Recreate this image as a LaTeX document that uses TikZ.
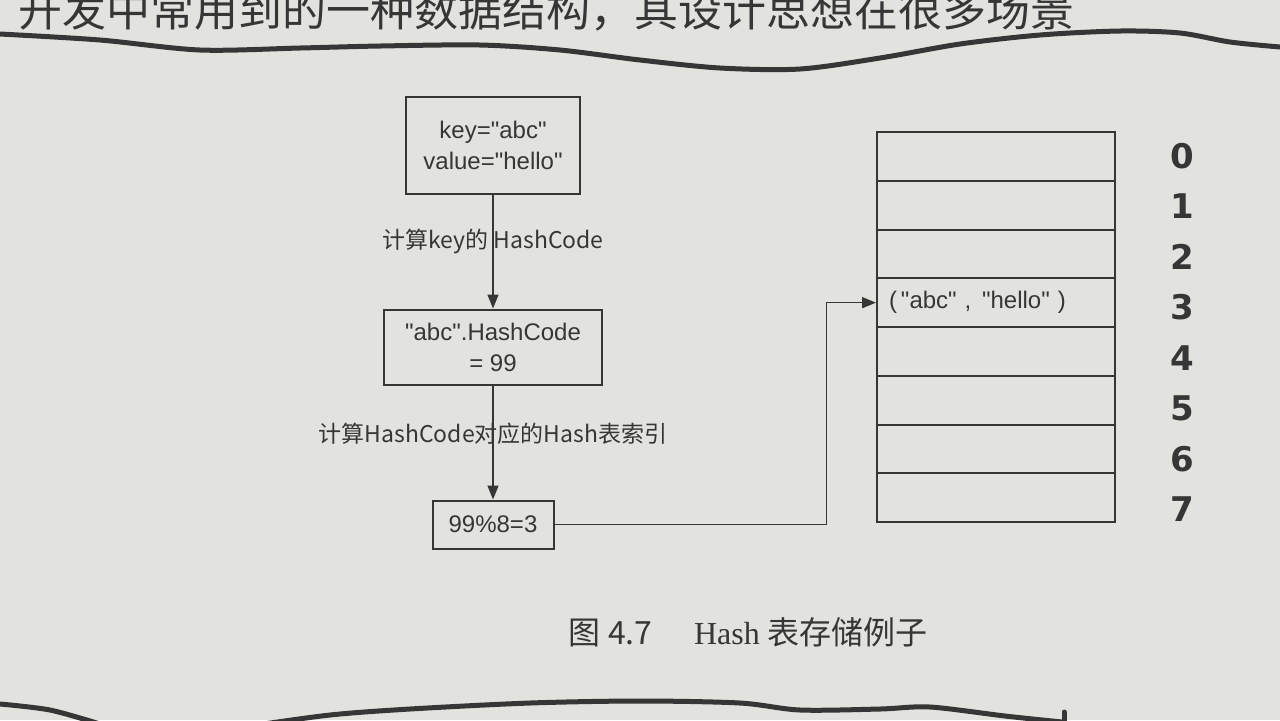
\documentclass[tikz,border=0pt]{standalone}
\usepackage{fontspec}
\setmainfont{Liberation Sans}
\newfontfamily\cjk{Noto Sans CJK SC}
\newfontfamily\capserif{Liberation Serif}
\newfontfamily\idxfont{DejaVu Sans}
\usetikzlibrary{arrows.meta,positioning}
\definecolor{paper}{HTML}{E2E2DF}
\definecolor{ink}{HTML}{363636}
\newcommand{\qt}{\textquotedbl}

\begin{document}
\begin{tikzpicture}[
    x=0.5pt, y=-0.5pt,
    node distance=57pt,
    box/.style={rectangle, draw=ink, line width=1pt, align=center, text=ink, font=\fontsize{12}{15.5}\selectfont},
    cell/.style={rectangle, draw=ink, line width=1pt, minimum width=119pt, minimum height=24.4pt, inner sep=0pt},
    steplabel/.style={font=\cjk\fontsize{11.5}{14}\selectfont, text=ink},
    idx/.style={font=\idxfont\bfseries\fontsize{17}{20}\selectfont, text=ink},
    arrow/.style={-{Triangle[length=7pt,width=5.5pt]}, draw=ink, line width=0.8pt},
    pageedge/.style={line width=2.5pt, draw=ink, line cap=round, line join=round}
]
\fill[paper] (0,0) rectangle (1280,720);
\useasboundingbox (0,0) rectangle (1280,720);

% Page text and torn edges
\begin{scope}
    \clip (0,0) rectangle (1280,720);
    \node[anchor=base west, inner sep=0pt, text=ink, font=\cjk\fontsize{22}{22}\selectfont] (bodytext) at (18,26) {开发中常用到的一种数据结构，其设计思想在很多场景};
    \draw[pageedge] plot[smooth] coordinates {(0,34) (100,40) (200,50) (300,48) (380,46) (480,45) (560,50) (640,60) (720,68) (800,69) (880,58) (960,44) (1040,35) (1120,31) (1180,33) (1230,42) (1280,47)};
    \draw[pageedge] plot[smooth] coordinates {(0,704) (50,710) (100,724)};
    \draw[pageedge] plot[smooth] coordinates {(250,726) (330,715) (410,709) (530,703) (640,701) (740,703) (800,710) (880,709) (930,707) (1005,716) (1062,722)};
    \draw[pageedge] (1064,712) -- (1064,724);
\end{scope}

% Hash steps
\node[box, minimum width=87pt, minimum height=48.5pt] (kv) at (493,145) {key=\qt abc\qt\\value=\qt hello\qt};
\node[box, minimum width=109pt, minimum height=37.5pt, below=of kv] (hash) {\qt abc\qt.HashCode\\= 99};
\node[box, minimum width=60.5pt, minimum height=24pt, below=of hash] (mod) {99\%8=3};

\draw[arrow] (kv) -- node[steplabel, pos=0.41] (calc1) {计算key的 HashCode} (hash);
\draw[arrow] (hash) -- node[steplabel, pos=0.42] (calc2) {计算HashCode对应的Hash表索引} (mod);

% Hash table
\foreach \i in {0,...,7}
    \node[cell] (c\i) at (996,{156.4+48.75*\i}) {};
\foreach \i in {0,...,7}
    \node[idx] (n\i) at (1182,{156+50.5*\i}) {\i};

\node[box, draw=none, anchor=west, inner sep=0pt] (entry) at ([xshift=6pt]c3.west) {(\,\qt abc\qt\,\,, \,\qt hello\qt\,\,)};

\draw[arrow] (mod.east) -- ++(272,0) |- (c3.west);

% Caption
\node[text=ink, font=\cjk\fontsize{16}{19}\selectfont] (caption) at (748,632) {图 4.7\hspace{1.3em}{\capserif Hash} 表存储例子};

\end{tikzpicture}
\end{document}
